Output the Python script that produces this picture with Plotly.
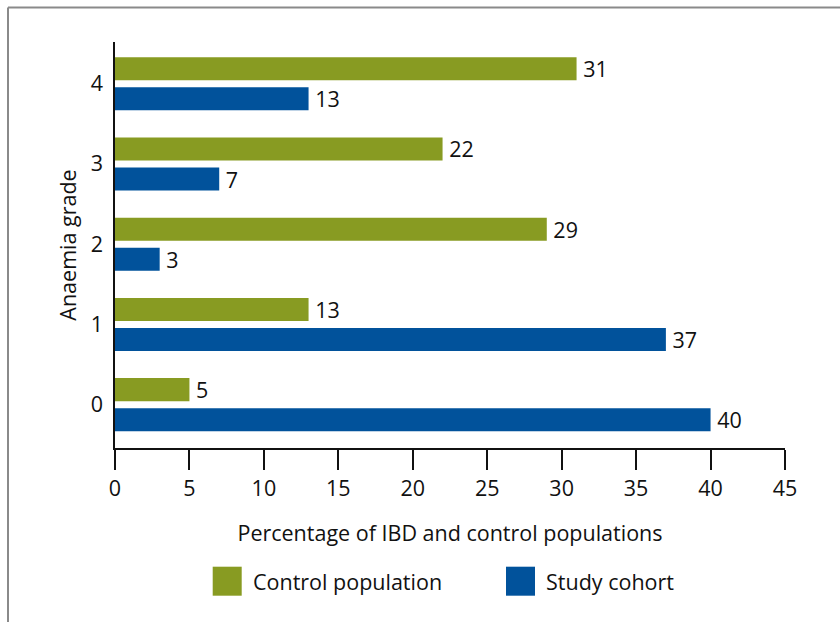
import plotly.graph_objects as go

grades = [0, 1, 2, 3, 4]
control_population = [5, 13, 29, 22, 31]
study_cohort = [40, 37, 3, 7, 13]
x_ticks = [0, 5, 10, 15, 20, 25, 30, 35, 40, 45]

GREEN = "#889B22"
BLUE = "#01529B"
FONT = "Open Sans"
FS = 21.5

fig = go.Figure()
fig.add_trace(go.Bar(
    y=grades, x=control_population, orientation="h", name="Control population",
    marker=dict(color=GREEN, line=dict(width=0)), width=0.287, offset=0.044,
    texttemplate="\u2009%{x}", textposition="outside", constraintext="none",
    textfont=dict(family=FONT, size=FS, color="#111"), cliponaxis=False,
    showlegend=False,
))
fig.add_trace(go.Bar(
    y=grades, x=study_cohort, orientation="h", name="Study cohort",
    marker=dict(color=BLUE, line=dict(width=0)), width=0.287, offset=-0.331,
    texttemplate="\u2009%{x}", textposition="outside", constraintext="none",
    textfont=dict(family=FONT, size=FS, color="#111"), cliponaxis=False,
    showlegend=False,
))

def px(x):
    return (x - 115) / 670

def py(y):
    return (448 - y) / 406

shapes = [
    # outer frame (top and left)
    dict(type="line", xref="paper", yref="paper", x0=px(8), x1=px(842), y0=py(7.5), y1=py(7.5),
         line=dict(color="#8a8a8a", width=2)),
    dict(type="line", xref="paper", yref="paper", x0=px(8), x1=px(8), y0=py(7.5), y1=py(624),
         line=dict(color="#8a8a8a", width=2)),
    # legend swatches
    dict(type="rect", xref="paper", yref="paper", x0=px(212.7), x1=px(241.7), y0=py(595.7), y1=py(566.7),
         fillcolor=GREEN, line=dict(width=0)),
    dict(type="rect", xref="paper", yref="paper", x0=px(506), x1=px(535), y0=py(595.7), y1=py(566.7),
         fillcolor=BLUE, line=dict(width=0)),
]
annotations = [
    dict(xref="paper", yref="paper", x=px(251), y=py(581.7), text="Control population", showarrow=False,
         xanchor="left", yanchor="middle", font=dict(family=FONT, size=FS, color="#111")),
    dict(xref="paper", yref="paper", x=px(544), y=py(581.7), text="Study cohort", showarrow=False,
         xanchor="left", yanchor="middle", font=dict(family=FONT, size=FS, color="#111")),
]

fig.update_layout(
    width=840, height=622,
    margin=dict(l=115, r=55, t=42, b=174),
    barmode="overlay",
    paper_bgcolor="white", plot_bgcolor="white",
    font=dict(family=FONT, size=FS, color="#111"),
    shapes=shapes, annotations=annotations,
    showlegend=False,
)
fig.update_xaxes(
    range=[0, 45], tickvals=x_ticks, ticktext=[str(t) for t in x_ticks],
    showgrid=False, zeroline=False, showline=True, linecolor="#111", linewidth=1.5,
    ticks="outside", ticklen=20, tickwidth=1.5, tickcolor="#111",
    tickfont=dict(family=FONT, size=FS, color="#111"),
    title=dict(text="Percentage of IBD and control populations", standoff=25,
               font=dict(family=FONT, size=FS, color="#111")),
)
fig.update_yaxes(
    range=[-0.54, 4.52], tickvals=grades, ticktext=[str(g) for g in grades],
    showgrid=False, zeroline=False, showline=True, linecolor="#111", linewidth=1.5,
    ticks="", ticklabelstandoff=6,
    tickfont=dict(family=FONT, size=FS, color="#111"),
    title=dict(text="Anaemia grade", standoff=8, font=dict(family=FONT, size=FS, color="#111")),
)

fig.write_html("out.html")
